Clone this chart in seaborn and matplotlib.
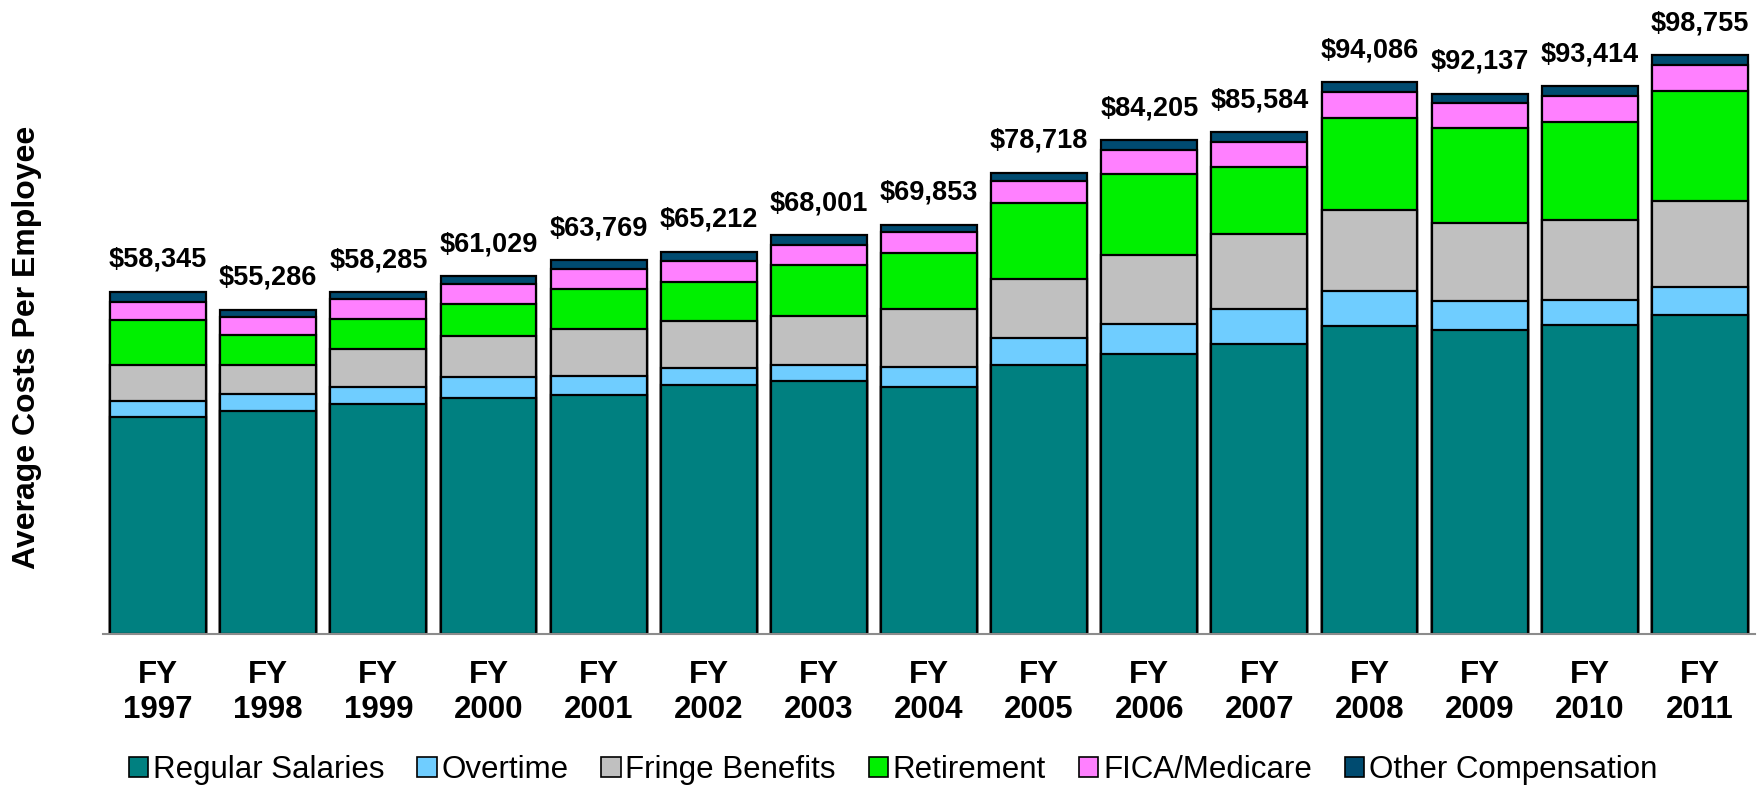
import numpy as np
import matplotlib
matplotlib.use("Agg")
import matplotlib.pyplot as plt
from matplotlib.patches import Patch
import seaborn as sns

# average cost per employee, by component ($)
years = ["FY\n1997", "FY\n1998", "FY\n1999", "FY\n2000", "FY\n2001", "FY\n2002", "FY\n2003", "FY\n2004",
         "FY\n2005", "FY\n2006", "FY\n2007", "FY\n2008", "FY\n2009", "FY\n2010", "FY\n2011"]
regular = [37076, 37999, 39292, 40215, 40736, 42463, 43092, 42101, 45960, 47840, 49481, 52507, 51826, 52692, 54474]
overtime = [2730, 2957, 2900, 3583, 3355, 2844, 2787, 3412, 4550, 5018, 5930, 5996, 4996, 4243, 4722]
fringe = [6028, 5004, 6483, 6995, 7962, 8076, 8417, 10009, 10123, 11796, 12838, 13881, 13277, 13688, 14715]
retirement = [7677, 5004, 5118, 5573, 6768, 6711, 8644, 9440, 12853, 13881, 11470, 15641, 16220, 16768, 18753]
fica = [3071, 3185, 3298, 3412, 3469, 3469, 3469, 3583, 3867, 4106, 4301, 4497, 4312, 4380, 4380]
other = [1763, 1137, 1194, 1251, 1479, 1649, 1592, 1308, 1365, 1564, 1564, 1564, 1506, 1643, 1711]
totals = [58345, 55286, 58285, 61029, 63769, 65212, 68001, 69853, 78718, 84205, 85584, 94086, 92137, 93414, 98755]

names = ["Regular Salaries", "Overtime", "Fringe Benefits", "Retirement", "FICA/Medicare", "Other Compensation"]
colors = ["#008080", "#6FCDFF", "#C0C0C0", "#00F000", "#FF80FF", "#004B70"]
layers = [regular, overtime, fringe, retirement, fica, other]

sns.set_style("white")
plt.rcParams["font.family"] = ["Liberation Sans", "DejaVu Sans"]
plt.rcParams["text.color"] = "black"
plt.rcParams["xtick.color"] = "black"

fig = plt.figure(figsize=(17.58, 7.88), dpi=100)
ax = fig.add_axes([103 / 1758, 154 / 788, 1652 / 1758, 634 / 788])

# stacked bars: draw the cumulative heights from the top layer down
cum = np.cumsum(np.array(layers), axis=0)
for i in range(len(layers) - 1, -1, -1):
    sns.barplot(x=years, y=cum[i], order=years, color=colors[i], saturation=1,
                edgecolor="black", linewidth=1.6, width=0.87, ax=ax)

# total labels above each bar
for i, t in enumerate(totals):
    ax.annotate(f"${t:,}", (i, cum[-1][i]), xytext=(0, 18), textcoords="offset points",
                ha="center", va="baseline", fontsize=19.5, fontweight="bold", annotation_clip=False)

ax.set_xlim(-0.5, 14.5)
ax.set_ylim(0, 108160)
ax.set_yticks([])
ax.set_ylabel("")
for s in ["left", "top", "right"]:
    ax.spines[s].set_visible(False)
ax.spines["bottom"].set_color("#8C8C8C")
ax.spines["bottom"].set_linewidth(1.5)
ax.set_xticks(np.arange(-0.5, 15, 1), minor=True)
ax.tick_params(axis="x", which="minor", length=9, width=1.5, color="#8C8C8C", direction="out")
ax.tick_params(axis="x", which="major", length=0, pad=19)
for lab in ax.get_xticklabels():
    lab.set_fontsize(22.5)
    lab.set_fontweight("bold")
    lab.set_linespacing(1.2)

fig.text(27 / 1758, 1 - 347 / 788, "Average Costs Per Employee", rotation=90, ha="center", va="center",
         fontsize=23, fontweight="bold")

handles = [Patch(facecolor=c, edgecolor="black", linewidth=1.2) for c in colors]
fig.legend(handles, names, loc="center", bbox_to_anchor=(893 / 1758, 1 - 770 / 788), ncol=6,
           frameon=False, fontsize=22.5, handlelength=0.62, handleheight=0.62,
           handletextpad=0.15, columnspacing=1.05, borderpad=0)

plt.savefig("out.png", dpi=100)
